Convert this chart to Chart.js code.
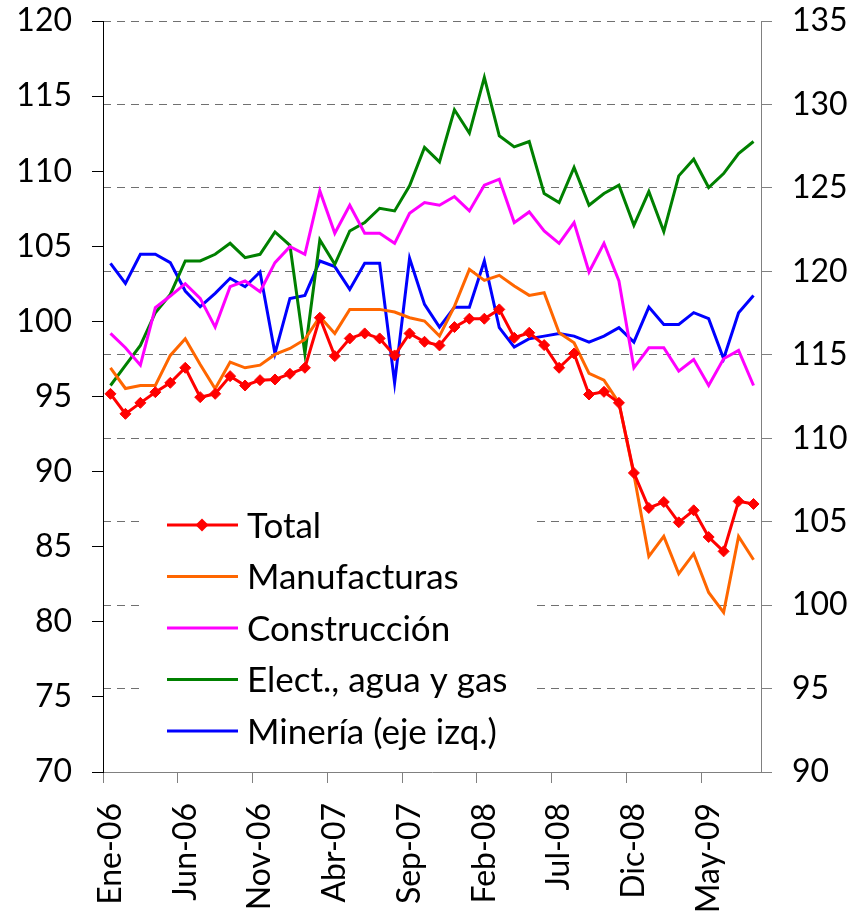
<!DOCTYPE html>
<html>
<head>
<meta charset="utf-8">
<script src="https://cdn.jsdelivr.net/npm/chart.js@4.4.4/dist/chart.umd.min.js"></script>
<style>
  html, body { margin: 0; padding: 0; background: #fff; }
</style>
</head>
<body>
<canvas id="chart" width="853" height="922"></canvas>
<script>
// months, Ene-06 .. Ago-09
const months = [
  'Ene-06','Feb-06','Mar-06','Abr-06','May-06','Jun-06','Jul-06','Ago-06','Sep-06','Oct-06','Nov-06','Dic-06',
  'Ene-07','Feb-07','Mar-07','Abr-07','May-07','Jun-07','Jul-07','Ago-07','Sep-07','Oct-07','Nov-07','Dic-07',
  'Ene-08','Feb-08','Mar-08','Abr-08','May-08','Jun-08','Jul-08','Ago-08','Sep-08','Oct-08','Nov-08','Dic-08',
  'Ene-09','Feb-09','Mar-09','Abr-09','May-09','Jun-09','Jul-09','Ago-09'
];

// right axis series
const total = [112.66,111.46,112.12,112.76,113.32,114.22,112.46,112.66,113.72,113.16,113.48,113.52,113.86,114.22,117.22,114.92,115.98,116.28,115.98,114.96,116.28,115.78,115.56,116.66,117.16,117.16,117.72,116.02,116.32,115.58,114.22,115.08,112.62,112.78,112.12,107.92,105.82,106.18,104.96,105.68,104.08,103.22,106.22,106.06];
const manufacturas = [114.22,112.98,113.16,113.16,114.96,115.96,114.42,112.96,114.56,114.22,114.38,115.02,115.38,115.92,117.28,116.28,117.72,117.72,117.72,117.56,117.22,117.02,116.12,117.9,120.12,119.46,119.76,119.12,118.56,118.72,116.32,115.72,113.88,113.48,112.12,107.82,102.92,104.12,101.88,103.08,100.76,99.56,104.12,102.72];
const construccion = [116.28,115.42,114.38,117.82,118.52,119.26,118.38,116.66,119.08,119.42,118.78,120.52,121.48,121.02,124.82,122.28,123.96,122.28,122.28,121.68,123.48,124.12,123.96,124.48,123.62,125.16,125.52,122.92,123.56,122.42,121.68,122.92,119.96,121.68,119.42,114.22,115.42,115.42,114.02,114.72,113.16,114.76,115.26,113.16];
const electricidad = [113.16,114.36,115.56,117.52,118.62,120.62,120.62,121.02,121.68,120.82,121.02,122.36,121.56,115.08,121.88,120.42,122.42,122.92,123.78,123.62,125.12,127.42,126.56,129.68,128.28,131.62,128.12,127.46,127.78,124.66,124.12,126.22,123.96,124.66,125.16,122.76,124.78,122.38,125.72,126.72,125.02,125.86,127.06,127.78];
// left axis
const mineria = [103.87,102.53,104.47,104.47,103.91,102.02,100.98,101.87,102.87,102.31,103.29,97.87,101.53,101.73,104.02,103.65,102.13,103.87,103.87,95.91,104.2,101.13,99.62,100.95,100.95,104.02,99.58,98.29,98.85,99.02,99.2,99.02,98.62,99.02,99.58,98.62,100.95,99.8,99.8,100.58,100.18,97.51,100.58,101.73];

const FONT = 'Lato';
const tickFont = { family: FONT, size: 32 };

// legend drawn inside the plot, over the grid but under the lines
const legendBox = {
  id: 'legendBox',
  beforeDatasetsDraw(chart) {
    const ctx = chart.ctx;
    ctx.save();
    ctx.fillStyle = '#fff';
    ctx.fillRect(140, 497, 395, 262);
    ctx.font = '35px ' + FONT;
    ctx.textBaseline = 'alphabetic';
    chart.data.datasets.forEach((ds, i) => {
      const y = 525 + i * 51.5;
      ctx.strokeStyle = ds.borderColor;
      ctx.lineWidth = 3;
      ctx.beginPath();
      ctx.moveTo(167, y);
      ctx.lineTo(238, y);
      ctx.stroke();
      if (ds.pointRadius > 0) {
        ctx.fillStyle = ds.borderColor;
        ctx.beginPath();
        ctx.moveTo(202, y - 6.5);
        ctx.lineTo(208.5, y);
        ctx.lineTo(202, y + 6.5);
        ctx.lineTo(195.5, y);
        ctx.closePath();
        ctx.fill();
      }
      ctx.fillStyle = '#000';
      ctx.fillText(ds.label, 247, y + 12.5);
    });
    ctx.restore();
  }
};

function line(label, data, color, axis) {
  return {
    label, data, yAxisID: axis,
    borderColor: color, backgroundColor: color,
    borderWidth: 3, pointRadius: 0, tension: 0
  };
}

const totalDs = line('Total', total, '#FF0000', 'y1');
totalDs.pointStyle = 'rectRot';
totalDs.pointRadius = 5.5;
totalDs.pointBorderWidth = 1;
totalDs.pointBackgroundColor = '#FF0000';
totalDs.pointBorderColor = '#FF0000';

// fixed axis sizes so the plot area sits where the original's does
function fixVertical(width) {
  return s => {
    s.width = width;
    s.paddingTop = 0;
    s.paddingBottom = 0;
  };
}

new Chart(document.getElementById('chart'), {
  type: 'line',
  data: {
    labels: months,
    datasets: [
      totalDs,
      line('Manufacturas', manufacturas, '#FF6600', 'y1'),
      line('Construcción', construccion, '#FF00FF', 'y1'),
      line('Elect., agua y gas', electricidad, '#008000', 'y1'),
      line('Minería (eje izq.)', mineria, '#0000FF', 'y')
    ]
  },
  options: {
    responsive: false,
    animation: false,
    layout: { padding: { top: 21, left: 0, right: 0, bottom: 0 } },
    plugins: { legend: { display: false }, tooltip: { enabled: false } },
    scales: {
      x: {
        offset: true,
        grid: {
          offset: true, drawOnChartArea: false, tickLength: 11,
          tickColor: c => c.index % 5 === 0 ? '#808080' : 'rgba(0,0,0,0)'
        },
        border: { color: '#808080' },
        ticks: {
          autoSkip: false, maxRotation: 90, minRotation: 90, padding: 20,
          font: tickFont, color: '#000',
          callback: (v, i) => i % 5 === 0 ? months[i] : ''
        },
        afterFit: s => { s.height = 150; s.paddingLeft = 0; s.paddingRight = 0; }
      },
      y: {
        position: 'left', min: 70, max: 120,
        ticks: { stepSize: 5, padding: 20, font: tickFont, color: '#000' },
        grid: { drawOnChartArea: false, tickLength: 11, tickColor: '#000' },
        border: { color: '#000' },
        afterFit: fixVertical(103)
      },
      y1: {
        position: 'right', min: 90, max: 135,
        ticks: { stepSize: 5, padding: 20, font: tickFont, color: '#000' },
        grid: {
          tickLength: 11, tickColor: '#808080', lineWidth: 1,
          color: c => c.tick && c.tick.value === 90 ? 'rgba(0,0,0,0)' : '#707070'
        },
        border: { color: '#808080', dash: [8, 6] },
        afterFit: fixVertical(92)
      }
    }
  },
  plugins: [legendBox]
});
</script>
</body>
</html>
